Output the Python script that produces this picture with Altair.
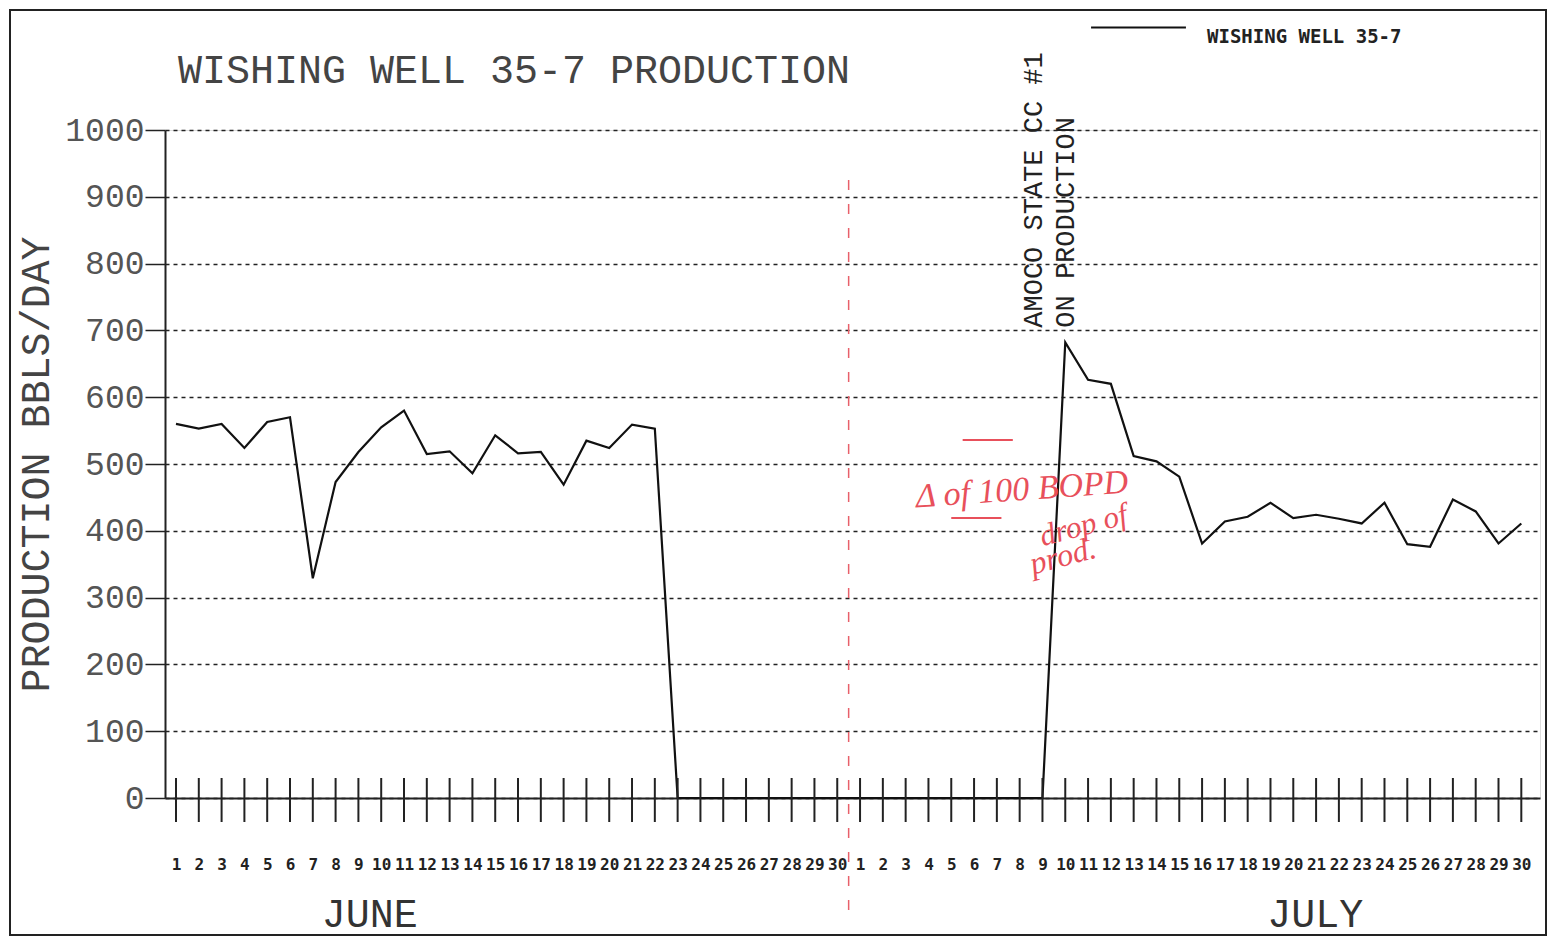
import altair as alt
import pandas as pd

# ---- data ----
june_days = list(range(1, 31))
july_days = list(range(1, 31))
june_prod = [560, 553, 560, 524, 563, 570, 329, 473, 518, 555,
             580, 515, 519, 486, 543, 516, 518, 469, 535, 524,
             559, 553, 0, 0, 0, 0, 0, 0, 0, 0]
july_prod = [0, 0, 0, 0, 0, 0, 0, 0, 0, 682,
             626, 620, 512, 504, 481, 381, 414, 421, 442, 419,
             424, 418, 411, 442, 380, 376, 447, 429, 381, 411]
series_name = "WISHING WELL 35-7"
y_ticks = list(range(0, 1001, 100))
months = ["JUNE", "JULY"]

days = june_days + july_days
prod = june_prod + july_prod
idx = list(range(1, len(days) + 1))
df = pd.DataFrame({"idx": idx, "day": days, "prod": prod, "series": series_name})

MONO = "Liberation Mono"
W, H = 1375, 668

xscale = alt.Scale(domain=[0.518, 60.82], nice=False, zero=False)
yscale = alt.Scale(domain=[0, 1000], nice=False)

x_axis = alt.Axis(values=idx, labelExpr="datum.value > 30 ? datum.value - 30 : datum.value",
                  ticks=False, tickSize=0, labelPadding=58, labelFont="DejaVu Sans Mono",
                  labelFontSize=16, labelFontWeight="bold", labelColor="#222", grid=False,
                  domainColor="#222", domainWidth=2, title=None, labelOverlap=False,
                  labelFlush=False)
y_axis = alt.Axis(values=y_ticks, format="d", labelFont=MONO, labelFontSize=33,
                  labelColor="#555", tickSize=20, tickColor="#222", tickWidth=1.5,
                  domainColor="#222", domainWidth=2, labelPadding=1, grid=True,
                  gridDash=[4, 4], gridColor="#222", gridWidth=1.3,
                  title="PRODUCTION BBLS/DAY", titleFont=MONO, titleFontSize=40,
                  titleFontWeight="normal", titleColor="#444", titleAngle=270,
                  titleX=-117, titleY=H / 2, titleAlign="center",
                  titleBaseline="alphabetic", labelOverlap=False)


def X(field):
    return alt.X(field, scale=xscale, axis=x_axis)


def Y(field):
    return alt.Y(field, scale=yscale, axis=y_axis)


base = alt.Chart(df)

line = base.mark_line(strokeWidth=2.2).encode(
    x=X("idx:Q"),
    y=Y("prod:Q"),
    color=alt.Color("series:N", scale=alt.Scale(range=["#111"]),
                    legend=alt.Legend(orient="none", legendX=925, legendY=-151,
                                      title=None, symbolType="stroke", symbolSize=9000,
                                      symbolStrokeWidth=2, labelFont="DejaVu Sans Mono",
                                      labelFontSize=19, labelFontWeight="bold",
                                      labelColor="#222", labelOffset=20, labelLimit=0,
                                      labelBaseline="top", padding=0)),
)

xticks = base.mark_rule(color="#222", strokeWidth=2).encode(
    x=X("idx:Q"), y=alt.value(H - 20), y2=alt.value(H + 24),
)

month_df = pd.DataFrame({"m": months, "pos": [9.5, 50.96]})
month_txt = alt.Chart(month_df).mark_text(font=MONO, fontSize=40, color="#333",
                                          baseline="middle").encode(
    x=X("pos:Q"), y=alt.value(785), text="m:N")

note_df = pd.DataFrame({"t": ["AMOCO STATE CC #1\nON PRODUCTION"], "pos": [39], "v": [704]})
note = alt.Chart(note_df).mark_text(font=MONO, fontSize=27, color="#222", angle=270,
                                    align="left", baseline="alphabetic", lineBreak="\n",
                                    lineHeight=32).encode(
    x=X("pos:Q"), y=Y("v:Q"), text="t:N")

red_rule = alt.Chart(pd.DataFrame({"pos": [30.5]})).mark_rule(
    color="#e8606a", strokeWidth=1.5, strokeDash=[10, 14]).encode(
    x=X("pos:Q"), y=alt.value(50), y2=alt.value(790))

red_df = pd.DataFrame({"t": ["Δ of 100 BOPD", "drop of", "prod."],
                       "pos": [38.1, 40.8, 39.9], "v": [461, 407, 362],
                       "a": [356, 345, 345], "s": [34, 31, 32]})
red_txt = alt.Chart(red_df).mark_text(font="Liberation Serif", fontStyle="italic",
                                      color="#e8505b", baseline="middle").encode(
    x=X("pos:Q"), y=Y("v:Q"), text="t:N",
    angle=alt.Angle("a:Q", scale=None), size=alt.Size("s:Q", scale=None, legend=None))

marks_df = pd.DataFrame({"x0": [35.5, 35.0], "x1": [37.7, 37.2], "v": [536, 419]})
red_marks = alt.Chart(marks_df).mark_rule(color="#e8505b", strokeWidth=2).encode(
    x=X("x0:Q"), x2="x1:Q", y=Y("v:Q"))

border = alt.Chart(pd.DataFrame({"k": [0]})).mark_rect(
    fillOpacity=0, stroke="#222", strokeWidth=2).encode(
    x=alt.value(-155), x2=alt.value(W + 6), y=alt.value(-120), y2=alt.value(H + 137))

chart = alt.layer(border, red_rule, line, xticks, month_txt, note, red_txt,
                  red_marks).properties(
    width=W, height=H,
    autosize=alt.AutoSizeParams(type="none"),
    padding={"left": 157, "top": 122, "right": 8, "bottom": 140},
    title=alt.TitleParams("WISHING WELL 35-7 PRODUCTION", anchor="start", frame="group",
                          dx=13, dy=148, offset=36, font=MONO, fontSize=40,
                          fontWeight="normal", color="#444"),
).configure_view(stroke=None, strokeWidth=0).configure(background="white")

chart.save("out.html", embed_options={"renderer": "svg", "actions": False})
